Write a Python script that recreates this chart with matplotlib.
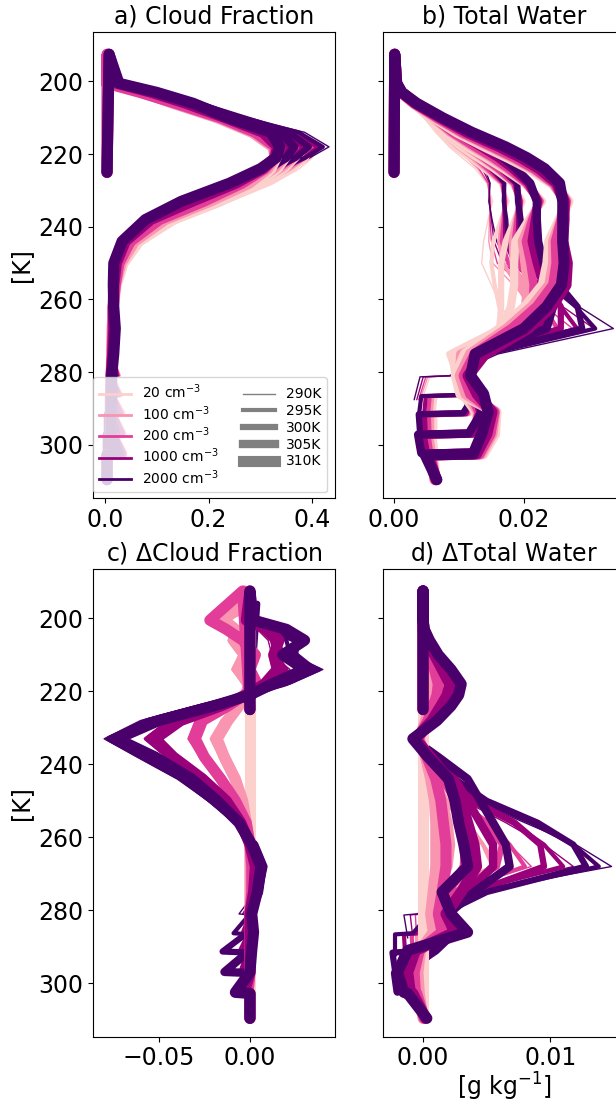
import numpy as np
import matplotlib
matplotlib.use('Agg')
import matplotlib.pyplot as plt
from matplotlib.lines import Line2D

# Runs: droplet number concentration x sea surface temperature
concs = [20, 100, 200, 1000, 2000]
ssts = [290, 295, 300, 305, 310]
conc_labels = ['20 cm$^{-3}$', '100 cm$^{-3}$', '200 cm$^{-3}$', '1000 cm$^{-3}$', '2000 cm$^{-3}$']
sst_labels = ['290K', '295K', '300K', '305K', '310K']

# Temperature of each model level (surface -> tropopause -> back down to model top)
temp_290 = [287.6, 281.3, 281.0, 275, 268, 262, 256, 250, 244, 238, 233, 228, 224, 221, 218, 214, 210, 206, 203, 200.5, 198.5, 225]
temp_295 = [292.3, 286.6, 286.3, 281, 275, 268, 262, 256, 250, 244, 238, 233, 228, 224, 221, 218, 214, 210, 206, 203, 200.5, 197.5, 225]
temp_300 = [296.5, 291.6, 291.3, 286, 281, 275, 268, 262, 256, 250, 244, 238, 233, 228, 224, 221, 218, 214, 210, 206, 203, 200.5, 196.0, 225]
temp_305 = [302.3, 297.2, 296.9, 291, 286, 281, 275, 268, 262, 256, 250, 244, 238, 233, 228, 224, 221, 218, 214, 210, 206, 203, 200.5, 194.5, 225]
temp_310 = [309.6, 302.8, 302.5, 297, 291, 286, 281, 275, 268, 262, 256, 250, 244, 238, 233, 228, 224, 221, 218, 214, 210, 206, 203, 200.5, 192.5, 225]

# Cloud fraction, 20 cm-3 runs
cf_20_290 = [0.004, 0.004, 0.03, 0.014, 0.015, 0.018, 0.026, 0.041, 0.074, 0.145, 0.24, 0.325, 0.375, 0.40, 0.41, 0.345, 0.25, 0.16, 0.09, 0.028, 0.008, 0.004]
cf_20_295 = [0.004, 0.004, 0.032, 0.012, 0.013, 0.015, 0.017, 0.025, 0.04, 0.072, 0.14, 0.235, 0.32, 0.365, 0.39, 0.40, 0.335, 0.245, 0.155, 0.088, 0.028, 0.008, 0.004]
cf_20_300 = [0.004, 0.004, 0.034, 0.012, 0.012, 0.013, 0.014, 0.017, 0.024, 0.038, 0.07, 0.14, 0.23, 0.31, 0.35, 0.37, 0.375, 0.32, 0.24, 0.15, 0.085, 0.027, 0.008, 0.004]
cf_20_305 = [0.004, 0.004, 0.034, 0.012, 0.011, 0.012, 0.013, 0.014, 0.016, 0.023, 0.037, 0.068, 0.135, 0.225, 0.30, 0.335, 0.35, 0.35, 0.305, 0.23, 0.145, 0.082, 0.026, 0.008, 0.004]
cf_20_310 = [0.004, 0.004, 0.033, 0.012, 0.011, 0.011, 0.012, 0.013, 0.014, 0.016, 0.022, 0.035, 0.065, 0.13, 0.22, 0.29, 0.32, 0.33, 0.325, 0.29, 0.22, 0.14, 0.08, 0.025, 0.008, 0.004]

# Change in cloud fraction relative to 20 cm-3 (one list per SST)
dcf_100 = [
    [0.0, 0.0, -0.001, 0.0, 0.001, 0.0, -0.002, -0.005, -0.01, -0.016, -0.02, -0.016, -0.008, -0.003, -0.004, -0.01, -0.006, -0.012, -0.006, -0.012, -0.003, 0.0],
    [0.0, 0.0, -0.001, 0.0, 0.0, 0.001, 0.0, -0.002, -0.005, -0.01, -0.016, -0.021, -0.015, -0.008, -0.003, -0.003, -0.009, -0.005, -0.011, -0.006, -0.012, -0.003, 0.0],
    [0.0, 0.0, -0.001, 0.0, 0.0, 0.0, 0.001, 0.0, -0.002, -0.005, -0.009, -0.015, -0.019, -0.014, -0.007, -0.002, -0.002, -0.008, -0.004, -0.01, -0.007, -0.013, -0.003, 0.0],
    [0.0, 0.0, -0.001, 0.0, 0.0, 0.0, 0.0, 0.0, 0.0, -0.002, -0.004, -0.009, -0.015, -0.019, -0.013, -0.006, -0.002, -0.002, -0.007, -0.004, -0.01, -0.007, -0.014, -0.003, 0.0],
    [0.0, 0.0, -0.001, 0.0, 0.0, 0.0, 0.0, 0.0, 0.0, 0.0, -0.002, -0.004, -0.008, -0.014, -0.018, -0.012, -0.006, -0.002, -0.001, -0.006, -0.003, -0.009, -0.008, -0.014, -0.003, 0.0],
]
dcf_200 = [
    [0.0, 0.0, -0.002, 0.001, 0.002, 0.0, -0.003, -0.01, -0.018, -0.027, -0.034, -0.03, -0.016, -0.006, 0.0, -0.006, -0.003, -0.01, -0.008, -0.018, -0.004, 0.0],
    [0.0, 0.0, -0.002, 0.0, 0.001, 0.002, 0.0, -0.003, -0.01, -0.018, -0.027, -0.033, -0.029, -0.015, -0.005, 0.002, -0.004, -0.002, -0.008, -0.01, -0.02, -0.004, 0.0],
    [0.0, 0.0, -0.002, 0.0, 0.0, 0.001, 0.002, 0.0, -0.003, -0.009, -0.017, -0.026, -0.032, -0.028, -0.014, -0.004, 0.003, -0.002, 0.0, -0.006, -0.012, -0.02, -0.004, 0.0],
    [0.0, 0.0, -0.002, 0.0, 0.0, 0.0, 0.001, 0.001, 0.0, -0.003, -0.009, -0.016, -0.025, -0.031, -0.027, -0.013, -0.004, 0.003, -0.001, 0.002, -0.005, -0.012, -0.022, -0.004, 0.0],
    [0.0, 0.0, -0.001, 0.0, 0.0, 0.0, 0.0, 0.001, 0.001, 0.0, -0.002, -0.008, -0.016, -0.025, -0.03, -0.026, -0.012, -0.003, 0.004, 0.0, 0.003, -0.004, -0.013, -0.022, -0.004, 0.0],
]
dcf_1000 = [
    [0.0, 0.0, -0.004, 0.003, 0.004, 0.001, -0.006, -0.017, -0.03, -0.046, -0.058, -0.045, -0.024, -0.006, 0.012, 0.022, 0.012, 0.01, 0.004, -0.005, 0.0, 0.0],
    [0.0, 0.0, -0.004, 0.0, 0.003, 0.004, 0.001, -0.006, -0.016, -0.029, -0.045, -0.057, -0.044, -0.022, -0.005, 0.011, 0.02, 0.014, 0.012, 0.006, -0.004, 0.0, 0.0],
    [0.0, 0.0, -0.005, 0.0, 0.0, 0.002, 0.004, 0.0, -0.005, -0.015, -0.028, -0.044, -0.055, -0.042, -0.02, -0.004, 0.01, 0.018, 0.015, 0.014, 0.008, -0.003, 0.0, 0.0],
    [0.0, 0.0, -0.004, 0.0, 0.0, 0.0, 0.002, 0.003, 0.0, -0.005, -0.014, -0.027, -0.043, -0.054, -0.04, -0.018, -0.003, 0.009, 0.016, 0.014, 0.015, 0.008, -0.002, 0.0, 0.0],
    [0.0, 0.0, -0.003, 0.0, 0.0, 0.0, 0.0, 0.002, 0.003, 0.0, -0.005, -0.013, -0.026, -0.042, -0.052, -0.038, -0.016, -0.002, 0.008, 0.015, 0.013, 0.016, 0.01, -0.002, 0.0, 0.0],
]
dcf_2000 = [
    [0.0, 0.0, -0.006, 0.003, 0.005, 0.001, -0.008, -0.023, -0.04, -0.062, -0.08, -0.06, -0.03, -0.005, 0.022, 0.04, 0.02, 0.015, 0.008, -0.004, 0.002, 0.0],
    [0.0, 0.0, -0.009, 0.0, 0.004, 0.006, 0.002, -0.007, -0.022, -0.038, -0.06, -0.078, -0.057, -0.027, -0.004, 0.02, 0.038, 0.022, 0.02, 0.01, -0.003, 0.0, 0.0],
    [0.0, 0.0, -0.015, -0.001, 0.0, 0.005, 0.008, 0.003, -0.007, -0.021, -0.036, -0.058, -0.077, -0.055, -0.025, -0.002, 0.018, 0.035, 0.025, 0.025, 0.012, -0.002, 0.004, 0.0],
    [0.0, 0.0, -0.014, 0.0, -0.001, 0.0, 0.005, 0.007, 0.002, -0.006, -0.02, -0.035, -0.055, -0.075, -0.052, -0.022, 0.0, 0.015, 0.033, 0.022, 0.028, 0.015, 0.0, 0.0, 0.0],
    [0.0, 0.0, -0.008, 0.0, 0.001, 0.002, 0.001, 0.004, 0.006, 0.001, -0.006, -0.018, -0.032, -0.052, -0.073, -0.05, -0.02, 0.0, 0.012, 0.03, 0.018, 0.03, 0.02, 0.002, 0.0, 0.0],
]

# Total water [g/kg], 20 cm-3 runs
qt_20_290 = [0.0043, 0.0055, 0.009, 0.012, 0.019, 0.0165, 0.015, 0.0135, 0.0138, 0.0145, 0.0152, 0.0143, 0.0125, 0.0105, 0.0085, 0.0064, 0.0046, 0.0024, 0.0009, 0.0003, 0.0001, 0.0]
qt_20_295 = [0.006, 0.0064, 0.0106, 0.0105, 0.010, 0.0172, 0.0162, 0.0155, 0.015, 0.0153, 0.0165, 0.0175, 0.0164, 0.0136, 0.0114, 0.009, 0.0068, 0.0049, 0.0025, 0.001, 0.0003, 0.0001, 0.0]
qt_20_300 = [0.0062, 0.0062, 0.0116, 0.011, 0.0097, 0.0085, 0.0162, 0.0165, 0.0165, 0.0165, 0.0172, 0.0186, 0.0198, 0.0182, 0.0152, 0.0126, 0.0101, 0.0074, 0.0052, 0.0027, 0.001, 0.0003, 0.0001, 0.0]
qt_20_305 = [0.0062, 0.0059, 0.013, 0.0125, 0.0105, 0.0095, 0.009, 0.0167, 0.018, 0.0185, 0.0185, 0.0187, 0.0208, 0.0228, 0.0201, 0.0168, 0.0141, 0.0112, 0.008, 0.0056, 0.0028, 0.0011, 0.0003, 0.0001, 0.0]
qt_20_310 = [0.0063, 0.006, 0.0137, 0.0155, 0.0157, 0.0103, 0.0096, 0.011, 0.0165, 0.0203, 0.023, 0.0237, 0.024, 0.0256, 0.0268, 0.0244, 0.021, 0.0177, 0.0142, 0.0098, 0.0063, 0.003, 0.0011, 0.0004, 0.0001, 0.0]

# Change in total water relative to 20 cm-3 (one list per SST)
dqt_100 = [
    [-0.0003, -0.0003, -0.0001, 0.0012, 0.006, 0.0048, 0.0034, 0.0017, 0.0008, 0.0002, -0.0003, 0.0001, 0.0004, 0.0006, 0.0007, 0.0005, 0.0003, 0.0001, 0.0, 0.0, 0.0, 0.0],
    [-0.0004, -0.0005, -0.0002, 0.0002, 0.0014, 0.0055, 0.0047, 0.0035, 0.0018, 0.0009, 0.0002, -0.0003, 0.0002, 0.0004, 0.0006, 0.0007, 0.0005, 0.0003, 0.0001, 0.0, 0.0, 0.0, 0.0],
    [-0.0005, -0.0005, -0.0002, 0.0003, 0.0004, 0.0015, 0.0038, 0.0042, 0.0033, 0.0018, 0.0009, 0.0002, -0.0003, 0.0002, 0.0005, 0.0007, 0.0008, 0.0005, 0.0003, 0.0001, 0.0, 0.0, 0.0, 0.0],
    [-0.0004, -0.0005, -0.0003, 0.0003, 0.0006, 0.0005, 0.0012, 0.002, 0.0022, 0.002, 0.0016, 0.001, 0.0003, -0.0003, 0.0002, 0.0005, 0.0007, 0.0008, 0.0006, 0.0003, 0.0001, 0.0, 0.0, 0.0, 0.0],
    [0.0, -0.0003, -0.0003, -0.0004, -0.0002, 0.0008, 0.0006, 0.0008, 0.001, 0.001, 0.001, 0.0009, 0.0006, 0.0002, -0.0003, 0.0002, 0.0005, 0.0007, 0.0008, 0.0006, 0.0003, 0.0001, 0.0, 0.0, 0.0, 0.0],
]
dqt_200 = [
    [-0.0005, -0.0006, -0.0002, 0.002, 0.0085, 0.0068, 0.0048, 0.0024, 0.0012, 0.0003, -0.0004, 0.0002, 0.0006, 0.0009, 0.001, 0.0008, 0.0005, 0.0002, 0.0, 0.0, 0.0, 0.0],
    [-0.0008, -0.0009, -0.0003, 0.0003, 0.0022, 0.008, 0.0068, 0.005, 0.0026, 0.0013, 0.0004, -0.0004, 0.0003, 0.0007, 0.001, 0.0011, 0.0008, 0.0005, 0.0002, 0.0, 0.0, 0.0, 0.0],
    [-0.0009, -0.001, -0.0004, 0.0006, 0.0008, 0.0025, 0.0058, 0.0062, 0.005, 0.0027, 0.0014, 0.0004, -0.0004, 0.0003, 0.0007, 0.001, 0.0011, 0.0008, 0.0005, 0.0002, 0.0, 0.0, 0.0, 0.0],
    [-0.0008, -0.0009, -0.0006, 0.0005, 0.0012, 0.001, 0.002, 0.0032, 0.0033, 0.003, 0.0025, 0.0016, 0.0005, -0.0004, 0.0003, 0.0008, 0.0011, 0.0012, 0.0009, 0.0005, 0.0002, 0.0, 0.0, 0.0, 0.0],
    [0.0001, -0.0005, -0.0006, -0.0007, -0.0003, 0.0015, 0.0012, 0.0015, 0.0018, 0.0018, 0.0016, 0.0014, 0.001, 0.0003, -0.0004, 0.0004, 0.0008, 0.0011, 0.0012, 0.0009, 0.0005, 0.0002, 0.0, 0.0, 0.0, 0.0],
]
dqt_1000 = [
    [-0.0008, -0.001, -0.0003, 0.003, 0.0118, 0.0095, 0.0065, 0.0032, 0.0016, 0.0005, -0.0005, 0.0004, 0.0011, 0.0016, 0.0018, 0.0013, 0.0008, 0.0003, 0.0001, 0.0, 0.0, 0.0],
    [-0.0014, -0.0015, -0.0005, 0.0004, 0.0035, 0.011, 0.0095, 0.007, 0.0036, 0.0018, 0.0006, -0.0005, 0.0005, 0.0012, 0.0017, 0.002, 0.0014, 0.0008, 0.0003, 0.0001, 0.0, 0.0, 0.0],
    [-0.0015, -0.0016, -0.0006, 0.001, 0.0012, 0.004, 0.0095, 0.0092, 0.0072, 0.004, 0.002, 0.0007, -0.0005, 0.0006, 0.0013, 0.0018, 0.002, 0.0015, 0.0009, 0.0003, 0.0001, 0.0, 0.0, 0.0],
    [-0.0013, -0.0015, -0.001, 0.0008, 0.002, 0.0016, 0.0035, 0.0055, 0.0055, 0.0045, 0.0035, 0.0025, 0.0009, -0.0006, 0.0006, 0.0014, 0.0019, 0.0021, 0.0015, 0.0009, 0.0003, 0.0001, 0.0, 0.0, 0.0],
    [0.0002, -0.0008, -0.001, -0.0012, -0.0006, 0.0025, 0.0018, 0.003, 0.0042, 0.004, 0.0035, 0.003, 0.002, 0.0006, -0.0006, 0.0007, 0.0014, 0.0019, 0.0021, 0.0015, 0.0009, 0.0003, 0.0001, 0.0, 0.0, 0.0],
]
dqt_2000 = [
    [-0.0012, -0.0015, -0.0005, 0.004, 0.0148, 0.012, 0.008, 0.004, 0.002, 0.0006, -0.0006, 0.0005, 0.0015, 0.0022, 0.0026, 0.0018, 0.001, 0.0004, 0.0001, 0.0, 0.0, 0.0],
    [-0.0022, -0.0022, -0.0008, 0.0005, 0.0045, 0.0138, 0.0118, 0.0085, 0.0045, 0.0022, 0.0008, -0.0006, 0.0006, 0.0016, 0.0024, 0.0028, 0.002, 0.0011, 0.0005, 0.0001, 0.0, 0.0, 0.0],
    [-0.0022, -0.0024, -0.001, 0.0015, 0.0015, 0.005, 0.0128, 0.0118, 0.009, 0.005, 0.0025, 0.0009, -0.0007, 0.0008, 0.0018, 0.0026, 0.0029, 0.0021, 0.0012, 0.0005, 0.0001, 0.0, 0.0, 0.0],
    [-0.002, -0.0022, -0.0015, 0.001, 0.0025, 0.002, 0.004, 0.0068, 0.0065, 0.0055, 0.0045, 0.0035, 0.0012, -0.0008, 0.0009, 0.002, 0.0027, 0.003, 0.0022, 0.0012, 0.0005, 0.0001, 0.0, 0.0, 0.0],
    [0.0003, -0.0012, -0.0015, -0.002, -0.0012, 0.0035, 0.0022, 0.0015, 0.0035, 0.0032, 0.0028, 0.0025, 0.002, 0.0004, -0.0008, 0.0011, 0.0022, 0.0028, 0.003, 0.0022, 0.0012, 0.0005, 0.0001, 0.0, 0.0, 0.0],
]

temps = [temp_290, temp_295, temp_300, temp_305, temp_310]
cf_ref = [cf_20_290, cf_20_295, cf_20_300, cf_20_305, cf_20_310]
qt_ref = [qt_20_290, qt_20_295, qt_20_300, qt_20_305, qt_20_310]
dcf = {100: dcf_100, 200: dcf_200, 1000: dcf_1000, 2000: dcf_2000}
dqt = {100: dqt_100, 200: dqt_200, 1000: dqt_1000, 2000: dqt_2000}

colors = plt.cm.RdPu(np.linspace(0.2, 1.0, 5))
widths = [1, 3, 4.5, 6, 8]

fig = plt.figure(figsize=(6.16, 11.05), dpi=100)
ax_a = fig.add_axes([0.151, 0.5493, 0.3929, 0.4217])
ax_b = fig.add_axes([0.6218, 0.5493, 0.3929, 0.4217], sharey=ax_a)
ax_c = fig.add_axes([0.151, 0.0618, 0.3929, 0.4235], sharey=ax_a)
ax_d = fig.add_axes([0.6218, 0.0618, 0.3929, 0.4235], sharey=ax_a)

for j, sst in enumerate(ssts):
    t = np.array(temps[j])
    cf0 = np.array(cf_ref[j])
    qt0 = np.array(qt_ref[j])
    for i, conc in enumerate(concs):
        if conc == 20:
            d_cf = np.zeros_like(cf0)
            d_qt = np.zeros_like(qt0)
        else:
            d_cf = np.array(dcf[conc][j])
            d_qt = np.array(dqt[conc][j])
        kw = dict(color=colors[i], lw=widths[j], solid_capstyle='round', solid_joinstyle='round')
        ax_a.plot(cf0 + d_cf, t, **kw)
        ax_b.plot(qt0 + d_qt, t, **kw)
        ax_c.plot(d_cf, t, **kw)
        ax_d.plot(d_qt, t, **kw)

fs = 17
ax_a.set_title('a) Cloud Fraction', fontsize=fs)
ax_b.set_title('b) Total Water', fontsize=fs)
ax_c.set_title('c) $\\Delta$Cloud Fraction', fontsize=fs)
ax_d.set_title('d) $\\Delta$Total Water', fontsize=fs)
ax_a.set_ylabel('[K]', fontsize=fs)
ax_c.set_ylabel('[K]', fontsize=fs)
ax_d.set_xlabel('[g kg$^{-1}$]', fontsize=fs, labelpad=0.5)

ax_a.set_ylim(314.65, 186.4)
ax_a.set_yticks([200, 220, 240, 260, 280, 300])
ax_a.set_xlim(-0.023, 0.4436)
ax_a.set_xticks([0.0, 0.2, 0.4])
ax_b.set_xlim(-0.0017, 0.0356)
ax_b.set_xticks([0.0, 0.02])
ax_c.set_xlim(-0.0861, 0.0467)
ax_c.set_xticks([-0.05, 0.0])
ax_d.set_xlim(-0.00314, 0.01586)
ax_d.set_xticks([0.0, 0.01])
for ax in [ax_a, ax_b, ax_c, ax_d]:
    ax.tick_params(labelsize=fs)
for ax in [ax_b, ax_d]:
    ax.tick_params(labelleft=False)

handles = [Line2D([], [], color=colors[i], lw=2) for i in range(5)]
handles += [Line2D([], [], color='gray', lw=w) for w in widths]
ax_a.legend(handles, conc_labels + sst_labels, ncol=2, loc='lower left',
            bbox_to_anchor=(0.0, 0.012), borderaxespad=0.0, fontsize=10,
            handlelength=2.3, columnspacing=1.8, labelspacing=0.2)

fig.savefig('out.png', dpi=100)
